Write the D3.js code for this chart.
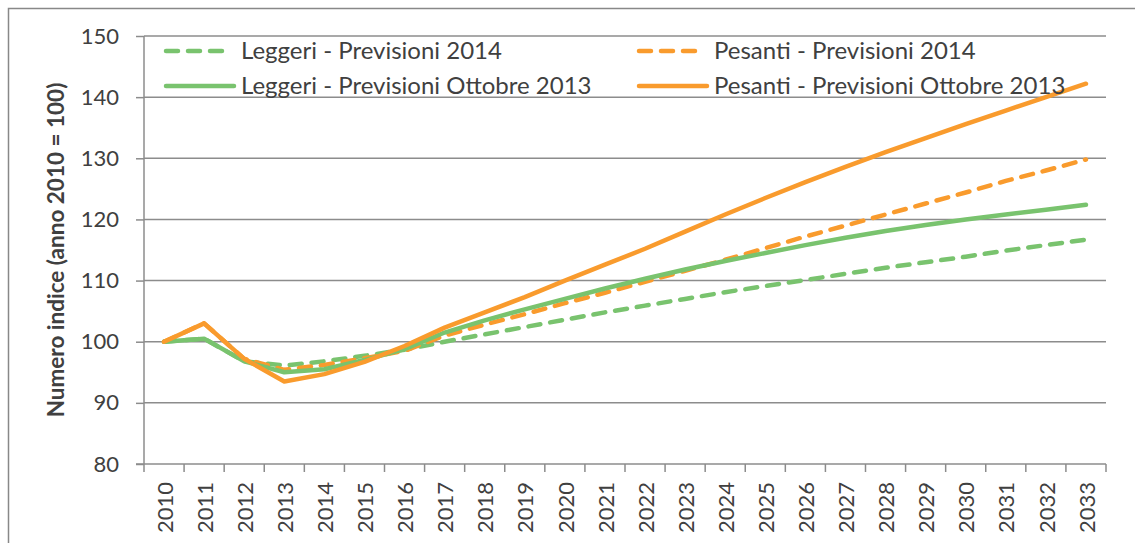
<!DOCTYPE html>
<html><head><meta charset="utf-8">
<script src="https://cdn.jsdelivr.net/npm/d3@7"></script>
<style>
html,body{margin:0;padding:0;background:#fff;}
svg{display:block;font-family:Lato, "Open Sans", sans-serif;}
</style></head>
<body><svg id="c" width="1135" height="543"></svg>
<script>
const years = ["2010","2011","2012","2013","2014","2015","2016","2017","2018","2019","2020","2021","2022","2023","2024","2025","2026","2027","2028","2029","2030","2031","2032","2033"];
const leggeri2014 = [100,100.5,96.8,96.1,96.8,97.7,98.7,100.0,101.2,102.4,103.6,104.8,105.9,107.0,108.1,109.1,110.1,111.1,112.1,113.0,113.9,114.9,115.8,116.7];
const pesanti2014 = [100,103,97.2,95.4,96.2,97.3,98.5,101.0,102.8,104.5,106.3,108.0,109.8,111.6,113.4,115.3,117.2,119.0,120.8,122.6,124.4,126.3,128.0,129.8];
const leggeriOtt2013 = [100,100.5,96.8,95.0,95.5,97.0,98.8,101.5,103.5,105.3,107.0,108.7,110.3,111.8,113.2,114.5,115.8,117.0,118.1,119.1,120.0,120.8,121.6,122.4];
const pesantiOtt2013 = [100,103,97.2,93.5,94.7,96.7,99.3,102.3,104.8,107.3,110.0,112.6,115.2,118.0,120.8,123.5,126.1,128.6,131.0,133.3,135.6,137.8,140.0,142.2];
const yTicks = [80,90,100,110,120,130,140,150];
const seriesNames = ["Leggeri - Previsioni 2014","Pesanti - Previsioni 2014","Leggeri - Previsioni Ottobre 2013","Pesanti - Previsioni Ottobre 2013"];
const yTitle = "Numero indice (anno 2010 = 100)";

const GREEN = "#79c36e", ORANGE = "#f99b2d";
const series = [
  {name: seriesNames[0], values: leggeri2014, color: GREEN, dash: true},
  {name: seriesNames[1], values: pesanti2014, color: ORANGE, dash: true},
  {name: seriesNames[2], values: leggeriOtt2013, color: GREEN, dash: false},
  {name: seriesNames[3], values: pesantiOtt2013, color: ORANGE, dash: false}
];

const svg = d3.select("#c");
svg.append("rect").attr("x",8.5).attr("y",8.5).attr("width",1140).attr("height",560)
  .attr("fill","none").attr("stroke","#888").attr("stroke-width",1.5);

const L = 144, R = 1106, T = 36, B = 464;
const x = d3.scaleBand().domain(years).range([L, R]);
const y = d3.scaleLinear().domain([80,150]).range([B, T]);
const GRID = "#8c8c8c";
const TXT = "#404040";

svg.append("g").selectAll("line").data(yTicks.filter(t=>t>80)).join("line")
  .attr("x1",L).attr("x2",R).attr("y1",d=>y(d)).attr("y2",d=>y(d))
  .attr("stroke",GRID).attr("stroke-width",1.5);

const yAx = svg.append("g").attr("transform",`translate(${L},0)`)
  .call(d3.axisLeft(y).tickValues(yTicks).tickSize(8).tickPadding(17).tickFormat(d3.format("d")));
yAx.selectAll(".domain").attr("stroke",GRID).attr("stroke-width",1.5).attr("d",`M0,${B}V${T}`);
yAx.selectAll(".tick line").attr("stroke",GRID).attr("stroke-width",1.5);
yAx.selectAll(".tick text").attr("fill",TXT).style("font-size","22px").style("font-family","Lato");

const xAx = svg.append("g").attr("transform",`translate(0,${B})`);
xAx.append("line").attr("x1",L-8).attr("x2",R).attr("y1",0).attr("y2",0).attr("stroke",GRID).attr("stroke-width",1.5);
const bounds = years.map(d=>x(d)).concat([R]);
xAx.selectAll("line.tk").data(bounds).join("line").attr("class","tk")
  .attr("x1",d=>d).attr("x2",d=>d).attr("y1",0).attr("y2",8).attr("stroke",GRID).attr("stroke-width",1.5);
xAx.selectAll("text").data(years).join("text")
  .attr("transform",d=>`translate(${x(d)+x.bandwidth()/2+1},18) rotate(-90)`)
  .attr("text-anchor","end").attr("dy","0.35em")
  .attr("fill",TXT).style("font-size","22px").text(d=>d);

svg.append("text").attr("transform","translate(56,250) rotate(-90)")
  .attr("text-anchor","middle").attr("dy","0.35em")
  .attr("fill",TXT).style("font-size","22.5px").style("font-weight","bold").text(yTitle);

const line = d3.line().x((d,i)=>x(years[i])+x.bandwidth()/2).y(d=>y(d));
svg.append("g").selectAll("path").data(series).join("path")
  .attr("d",d=>line(d.values)).attr("fill","none")
  .attr("stroke",d=>d.color).attr("stroke-width",4.5)
  .attr("stroke-linecap","round").attr("stroke-linejoin","round")
  .attr("stroke-dasharray",d=>d.dash?"12,10":null);

const legPos = [
  {s: series[0], x: 166, y: 51},
  {s: series[1], x: 639, y: 51},
  {s: series[2], x: 166, y: 86},
  {s: series[3], x: 639, y: 86}
];
const lg = svg.append("g").selectAll("g").data(legPos).join("g")
  .attr("transform",d=>`translate(${d.x},${d.y})`);
lg.append("line").attr("x1",0).attr("x2",d=>d.s.dash?61:68).attr("y1",0).attr("y2",0)
  .attr("stroke",d=>d.s.color).attr("stroke-width",4.5).attr("stroke-linecap","round")
  .attr("stroke-dasharray",d=>d.s.dash?"12,10":null);
lg.append("text").attr("x",75).attr("dy","0.35em").attr("fill",TXT)
  .style("font-size","24px").text(d=>d.s.name);
</script></body></html>
